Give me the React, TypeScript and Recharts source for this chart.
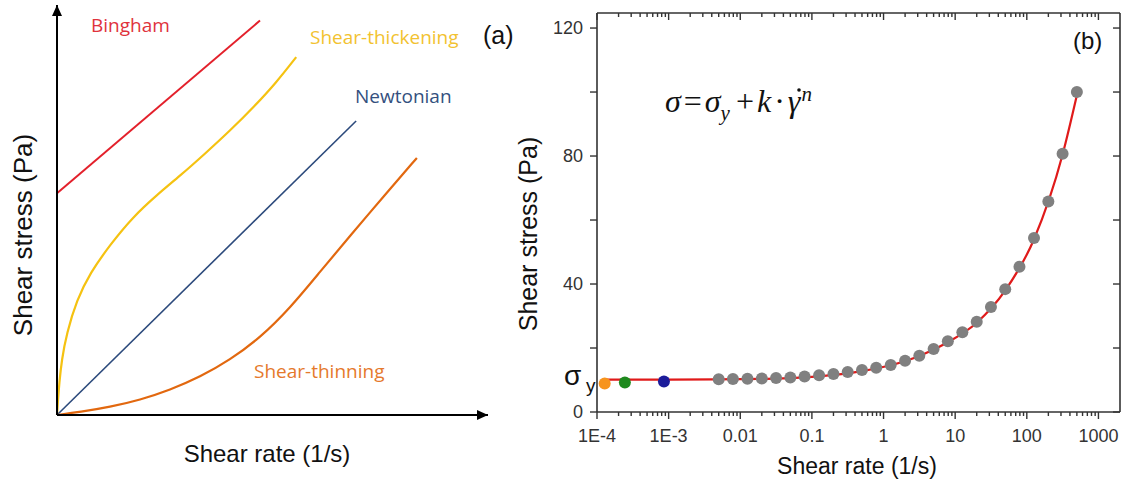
import React from "react";
import {
  LineChart,
  ComposedChart,
  Line,
  Scatter,
  XAxis,
  YAxis,
  ReferenceDot,
} from "recharts";

// panel (a): schematic flow curves, arbitrary units 0-100
const binghamX = [0, 47.1];
const binghamY = [54.1, 96.2];
const newtonianX = [0, 69.4];
const newtonianY = [0, 71.7];
const thickeningX = [0, 0.23, 0.53, 1.09, 2.25, 4.57, 7.66, 12.3, 17.6, 23.2, 28.5, 34.3, 40.1, 45.9, 50.8, 55.5];
const thickeningY = [0, 3.66, 7.73, 13.4, 19.9, 28, 34.6, 41.5, 48.3, 53.7, 58.3, 63.7, 69.3, 75.4, 81, 87.3];
const thinningX = [0, 5.34, 12.3, 19.26, 26.2, 33.2, 40.1, 47.1, 54.1, 61, 68, 76.1, 83.5];
const thinningY = [0, 0.73, 1.95, 3.66, 6.1, 9.27, 13.4, 18.8, 26.1, 34.9, 43.7, 53.7, 62.7];

// panel (b): measured flow curve
const rateX = [
  0.005, 0.0079, 0.0126, 0.02, 0.0316, 0.05, 0.079, 0.126, 0.2, 0.316, 0.5, 0.79, 1.26,
  2, 3.16, 5, 7.9, 12.6, 20, 31.6, 50, 79, 126, 200, 316, 500,
];
const stressY = [
  10.2, 10.3, 10.4, 10.5, 10.6, 10.8, 11.1, 11.5, 11.9, 12.5, 13.1, 13.8, 14.7,
  16.0, 17.6, 19.7, 22.1, 24.9, 28.2, 32.8, 38.4, 45.4, 54.4, 65.8, 80.7, 100,
];
const fitX = [1.3e-4, 1e-3, 0.005, 0.0126, 0.0316, 0.079, 0.2, 0.5, 1.26, 3.16, 7.9, 20, 50, 126, 316, 500];
const fitY = [10.1, 10.1, 10.2, 10.3, 10.4, 10.8, 11.6, 12.8, 14.6, 17.5, 21.8, 27.9, 38, 54, 80.5, 99];
const yieldX = [1.28e-4, 2.45e-4, 8.6e-4];
const yieldY = [8.9, 9.2, 9.5];
const yieldColors = ["#f7941d", "#1e8a1e", "#1c1c9a"];

const xMajor = [1e-4, 1e-3, 0.01, 0.1, 1, 10, 100, 1000];
const xMajorLabels = ["1E-4", "1E-3", "0.01", "0.1", "1", "10", "100", "1000"];
const yTicks = [0, 20, 40, 60, 80, 100, 120];
const yTickLabels = ["0", "", "40", "", "80", "", "120"];

const toPts = (xs: number[], ys: number[]) => xs.map((x, i) => ({ x, y: ys[i] }));

const xTicks = [
  ...xMajor,
  ...xMajor.flatMap((m) => [2, 3, 4, 5, 6, 7, 8, 9].map((k) => k * m)).filter((v) => v < 1999),
].sort((a, b) => a - b);

const majorIndex = (v: number) => xMajor.findIndex((m) => Math.abs(v - m) / m < 1e-6);

const AXIS = "#333";
const SANS = "'Liberation Sans', Arial, sans-serif";

const BottomTick = ({ x, y, payload }: any) => {
  const i = majorIndex(payload.value);
  return (
    <g>
      <line x1={x} y1={y} x2={x} y2={y + (i >= 0 ? 7 : 4)} stroke={AXIS} strokeWidth={1.4} />
      {i >= 0 && (
        <text x={x} y={y + 24} textAnchor="middle" dominantBaseline="central" fontSize={18} fontFamily={SANS} fill="#333">
          {xMajorLabels[i]}
        </text>
      )}
    </g>
  );
};

const TopTick = ({ x, y, payload }: any) => {
  const i = majorIndex(payload.value);
  return <line x1={x} y1={y} x2={x} y2={y + (i >= 0 ? 7 : 4)} stroke={AXIS} strokeWidth={1.4} />;
};

const LeftTick = ({ x, y, payload }: any) => {
  const i = yTicks.indexOf(payload.value);
  return (
    <g>
      <line x1={x} y1={y} x2={x - 7} y2={y} stroke={AXIS} strokeWidth={1.4} />
      <text x={x - 14} y={y} textAnchor="end" dominantBaseline="central" fontSize={18} fontFamily={SANS} fill="#333">
        {yTickLabels[i]}
      </text>
    </g>
  );
};

const RightTick = ({ x, y }: any) => (
  <line x1={x} y1={y} x2={x - 7} y2={y} stroke={AXIS} strokeWidth={1.4} />
);

const ArrowRight = ({ cx, cy }: any) => (
  <polygon points={`${cx},${cy} ${cx - 11},${cy - 5} ${cx - 11},${cy + 5}`} fill="#000" />
);
const ArrowUp = ({ cx, cy }: any) => (
  <polygon points={`${cx},${cy} ${cx - 5},${cy + 11} ${cx + 5},${cy + 11}`} fill="#000" />
);

const dotShape = (r: number, fill: string) => (p: any) => <circle cx={p.cx} cy={p.cy} r={r} fill={fill} />;

const SchematicPanel = () => (
  <LineChart width={520} height={488} margin={{ top: 5, right: 32, bottom: 72, left: 56 }}>
    <XAxis type="number" dataKey="x" domain={[0, 100]} height={1} tick={false} tickLine={false} axisLine={{ stroke: "#000", strokeWidth: 2 }} />
    <YAxis type="number" domain={[0, 100]} width={1} tick={false} tickLine={false} axisLine={{ stroke: "#000", strokeWidth: 2 }} />
    <Line data={toPts(binghamX, binghamY)} dataKey="y" stroke="#e3202b" strokeWidth={2} dot={false} isAnimationActive={false} />
    <Line data={toPts(thickeningX, thickeningY)} dataKey="y" type="basis" stroke="#f5c211" strokeWidth={2.2} dot={false} isAnimationActive={false} />
    <Line data={toPts(newtonianX, newtonianY)} dataKey="y" stroke="#2c4a7c" strokeWidth={1.6} dot={false} isAnimationActive={false} />
    <Line data={toPts(thinningX, thinningY)} dataKey="y" type="basis" stroke="#e2680f" strokeWidth={2.2} dot={false} isAnimationActive={false} />
    <ReferenceDot x={100} y={0} r={0} ifOverflow="visible" shape={ArrowRight} />
    <ReferenceDot x={0} y={100} r={0} ifOverflow="visible" shape={ArrowUp} />
  </LineChart>
);

const MeasuredPanel = () => (
  <ComposedChart width={604} height={488} margin={{ top: 12, right: 3, bottom: 0, left: 37 }}>
    <XAxis
      xAxisId={0}
      type="number"
      dataKey="x"
      scale="log"
      domain={[1e-4, 2000]}
      allowDataOverflow
      ticks={xTicks}
      interval={0}
      height={76}
      tickSize={0}
      tickMargin={0}
      tickLine={false}
      tick={(p: any) => <BottomTick {...p} />}
      axisLine={{ stroke: AXIS, strokeWidth: 1.6 }}
    />
    <XAxis
      xAxisId="top"
      orientation="top"
      type="number"
      dataKey="x"
      scale="log"
      domain={[1e-4, 2000]}
      allowDataOverflow
      ticks={xTicks}
      interval={0}
      height={1}
      tickSize={0}
      tickMargin={0}
      tickLine={false}
      tick={(p: any) => <TopTick {...p} />}
      axisLine={{ stroke: AXIS, strokeWidth: 1.6 }}
    />
    <YAxis
      yAxisId={0}
      type="number"
      domain={[0, 124.7]}
      allowDataOverflow
      ticks={yTicks}
      interval={0}
      width={40}
      tickSize={0}
      tickMargin={0}
      tickLine={false}
      tick={(p: any) => <LeftTick {...p} />}
      axisLine={{ stroke: AXIS, strokeWidth: 1.6 }}
    />
    <YAxis
      yAxisId="right"
      orientation="right"
      type="number"
      domain={[0, 124.7]}
      allowDataOverflow
      ticks={yTicks}
      interval={0}
      width={1}
      tickSize={0}
      tickMargin={0}
      tickLine={false}
      tick={(p: any) => <RightTick {...p} />}
      axisLine={{ stroke: AXIS, strokeWidth: 1.6 }}
    />
    <Scatter data={toPts(rateX, stressY)} dataKey="y" shape={dotShape(6, "#808080")} isAnimationActive={false} />
    <Line data={toPts(fitX, fitY)} dataKey="y" type="monotone" stroke="#e01a1a" strokeWidth={2.2} dot={false} isAnimationActive={false} />
    {yieldX.map((x, i) => (
      <Scatter key={i} data={[{ x, y: yieldY[i] }]} dataKey="y" shape={dotShape(6, yieldColors[i])} isAnimationActive={false} />
    ))}
  </ComposedChart>
);

const Texts = () => (
  <svg width={1124} height={488} style={{ position: "absolute", left: 0, top: 0, pointerEvents: "none" }}>
    <g fontFamily="'Open Sans', sans-serif" fontSize={19} dominantBaseline="central">
      <text x={91} y={25} fill="#e0323c">Bingham</text>
      <text x={310} y={37} fill="#f2c230">Shear-thickening</text>
      <text x={355} y={96} fill="#34507e">Newtonian</text>
      <text x={254} y={371} fill="#e5792c">Shear-thinning</text>
    </g>
    <g fontFamily={SANS} fill="#111" dominantBaseline="central">
      <text x={483} y={35} fontSize={25}>(a)</text>
      <text x={1073} y={40} fontSize={24}>(b)</text>
      <text x={267} y={453} fontSize={24} textAnchor="middle">Shear rate (1/s)</text>
      <text x={23} y={235} fontSize={26} textAnchor="middle" transform="rotate(-90 23 235)">Shear stress (Pa)</text>
      <text x={857} y={466} fontSize={23} textAnchor="middle">Shear rate (1/s)</text>
      <text x={528} y={234} fontSize={25} textAnchor="middle" transform="rotate(-90 528 234)">Shear stress (Pa)</text>
    </g>
    <text x={564} y={385} fontSize={28} fontFamily={SANS} fill="#111">σ</text>
    <text x={586} y={392} fontSize={19} fontFamily={SANS} fill="#111">y</text>
    <text x={665} y={112} fontSize={32} fontFamily="'Liberation Serif', 'Times New Roman', serif" fill="#111">
      <tspan fontStyle="italic">σ</tspan>
      <tspan dx={3}>=</tspan>
      <tspan dx={3} fontStyle="italic">σ</tspan>
      <tspan fontStyle="italic" fontSize={21} dy={8}>y</tspan>
      <tspan dy={-8} dx={6}>+</tspan>
      <tspan dx={3} fontStyle="italic">k</tspan>
      <tspan dx={3}>·</tspan>
      <tspan dx={3} fontStyle="italic">γ</tspan>
      <tspan fontStyle="italic" fontSize={21} dx={1} dy={-11}>n</tspan>
    </text>
    <circle cx={799} cy={90} r={1.8} fill="#111" />
  </svg>
);

export default function App() {
  return (
    <div style={{ position: "absolute", left: 0, top: 0, width: 1124, height: 488, background: "#fff" }}>
      <div style={{ position: "absolute", left: 0, top: 0 }}>
        <SchematicPanel />
      </div>
      <div style={{ position: "absolute", left: 520, top: 0 }}>
        <MeasuredPanel />
      </div>
      <Texts />
    </div>
  );
}
